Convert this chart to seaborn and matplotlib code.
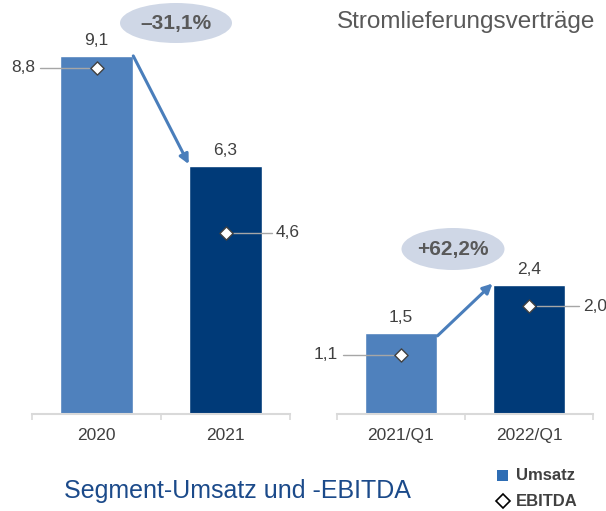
import numpy as np
import seaborn as sns
import matplotlib.pyplot as plt
from matplotlib.patches import Ellipse, Rectangle
from matplotlib.lines import Line2D

# data
years = ["2020", "2021"]
umsatz_years = [9.1, 6.3]
ebitda_years = [8.8, 4.6]

quarters = ["2021/Q1", "2022/Q1"]
umsatz_quarters = [1.5, 2.4]
ebitda_quarters = [1.1, 2.0]

change_years = "–31,1%"
change_quarters = "+62,2%"

light_blue = "#4f81bd"
dark_blue = "#003a78"
arrow_blue = "#4a7ebb"
grey_text = "#404040"

sns.set_theme(style="white")
plt.rcParams['font.family'] = ['Liberation Sans', 'DejaVu Sans']

fig = plt.figure(figsize=(6.06, 5.11), dpi=100)
W, H = 606, 511


def fmt(v):
    return f"{v:.1f}".replace(".", ",")


def draw_panel(ax, cats, umsatz, ebitda, ymax, left_lbl, right_lbl):
    sns.barplot(x=cats, y=umsatz, hue=cats, palette=[light_blue, dark_blue],
                saturation=1, width=0.57, legend=False, ax=ax)
    pos = np.arange(len(cats))
    sns.scatterplot(x=pos, y=ebitda, marker="D", s=45, color="white",
                    edgecolor="#404040", linewidth=1, zorder=5, ax=ax)
    ax.set_xlim(-0.5, 1.5)
    ax.set_ylim(0, ymax)
    for i, v in enumerate(umsatz):
        ax.annotate(fmt(v), (i, v), xytext=(0, 11), textcoords="offset points",
                    ha="center", va="center", fontsize=12.5, color=grey_text)
    # leader lines for EBITDA values
    ax.plot([left_lbl + 0.04, -0.06], [ebitda[0]] * 2, color="#a6a6a6", lw=1, clip_on=False, zorder=4)
    ax.text(left_lbl, ebitda[0], fmt(ebitda[0]), ha="right", va="center",
            fontsize=12.5, color=grey_text, clip_on=False)
    ax.plot([1.06, right_lbl - 0.03], [ebitda[1]] * 2, color="#a6a6a6", lw=1, clip_on=False, zorder=4)
    ax.text(right_lbl, ebitda[1], fmt(ebitda[1]), ha="left", va="center",
            fontsize=12.5, color=grey_text, clip_on=False)

    for s in ["top", "left", "right"]:
        ax.spines[s].set_visible(False)
    ax.spines["bottom"].set_color("#d9d9d9")
    ax.spines["bottom"].set_linewidth(1.5)
    ax.set_yticks([])
    ax.set_xlabel("")
    ax.set_ylabel("")
    ax.set_xticks([-0.5, 0.5, 1.5], minor=True)
    ax.tick_params(axis="x", which="major", length=0, pad=10, labelsize=12.5, labelcolor=grey_text)
    ax.tick_params(axis="x", which="minor", length=4, width=1.2, color="#d9d9d9", bottom=True)


bottom = (H - 414) / H
height = 414 / H

ax1 = fig.add_axes([32 / W, bottom, 258 / W, height])
draw_panel(ax1, years, umsatz_years, ebitda_years, 414 / 39.35, -0.475, 1.39)
ax1.annotate("", xy=(0.715, umsatz_years[1] + 0.05), xytext=(0.285, umsatz_years[0]),
             arrowprops=dict(arrowstyle="-|>", color=arrow_blue, lw=2.2,
                             mutation_scale=14, shrinkA=0, shrinkB=0))

ax2 = fig.add_axes([337 / W, bottom, 256 / W, height])
draw_panel(ax2, quarters, umsatz_quarters, ebitda_quarters, 414 / 53.9, -0.49, 1.42)
ax2.annotate("", xy=(0.715, umsatz_quarters[1] + 0.02), xytext=(0.285, umsatz_quarters[0] - 0.05),
             arrowprops=dict(arrowstyle="-|>", color=arrow_blue, lw=2.2,
                             mutation_scale=14, shrinkA=0, shrinkB=0))

# change bubbles
for (cx, cy, w, h, txt) in [(176, 23, 112, 40, change_years), (453, 249, 103, 42, change_quarters)]:
    fig.patches.append(Ellipse((cx / W, 1 - cy / H), w / W, h / H, transform=fig.transFigure,
                               facecolor="#cfd7e6", edgecolor="none", zorder=0))
    fig.text(cx / W, 1 - (cy + 1) / H, txt, ha="center", va="center", fontsize=15,
             fontweight="bold", color="#595959")

fig.text(595 / W, 1 - 28 / H, "Stromlieferungsverträge", ha="right", va="baseline",
         fontsize=17.5, color="#595959")
fig.text(64 / W, 1 - 498 / H, "Segment-Umsatz und -EBITDA", ha="left", va="baseline",
         fontsize=18, color="#1b4a8a")

# legend
fig.patches.append(Rectangle((497 / W, 1 - 481 / H), 11 / W, 11 / H, transform=fig.transFigure,
                             facecolor="#2e6db4", edgecolor="none"))
fig.text(516 / W, 1 - 475 / H, "Umsatz", ha="left", va="center", fontsize=12,
         fontweight="bold", color=grey_text)
fig.lines.append(Line2D([502.5 / W], [1 - 501 / H], marker="D", markersize=7.5, markerfacecolor="white",
                        markeredgecolor="black", markeredgewidth=1.2, transform=fig.transFigure))
fig.text(516 / W, 1 - 501 / H, "EBITDA", ha="left", va="center", fontsize=12,
         fontweight="bold", color=grey_text)

fig.savefig("out.png", dpi=100)
